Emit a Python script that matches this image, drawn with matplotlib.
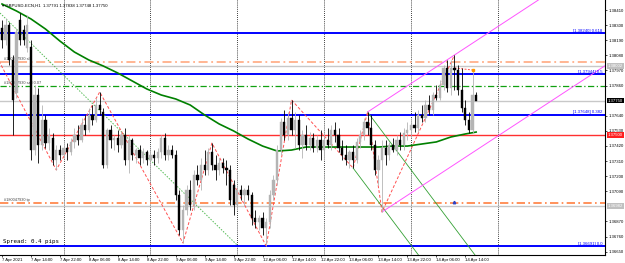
import matplotlib
matplotlib.use("Agg")
import matplotlib.pyplot as plt
import numpy as np

# ---------------- data ----------------
opens = [1.38279,1.38192,1.38301,1.38046,1.37805,1.38337,1.38264,1.38133,1.38141,1.37390,
         1.37791,1.37427,1.37609,1.37441,1.37478,1.37317,1.37390,1.37354,1.37405,1.37376,
         1.37449,1.37500,1.37463,1.37572,1.37536,1.37645,1.37609,1.37718,1.37667,1.37281,
         1.37536,1.37463,1.37478,1.37427,1.37500,1.37317,1.37463,1.37354,1.37390,1.37332,
         1.37376,1.37317,1.37354,1.37332,1.37376,1.37478,1.37354,1.37390,1.37354,1.37062,
         1.36807,1.36953,1.37099,1.36990,1.37208,1.37172,1.37281,1.37245,1.37376,1.37281,
         1.37245,1.37296,1.37259,1.37245,1.37135,1.36990,1.37099,1.37062,1.37099,1.37062,
         1.36895,1.36866,1.36895,1.36822,1.36866,1.37062,1.37172,1.37390,1.37594,1.37500,
         1.37623,1.37536,1.37609,1.37427,1.37500,1.37427,1.37478,1.37405,1.37463,1.37390,
         1.37463,1.37427,1.37536,1.37500,1.37405,1.37354,1.37317,1.37376,1.37317,1.37449,
         1.37500,1.37594,1.37551,1.37427,1.37245,1.37317,1.37405,1.37354,1.37427,1.37390,
         1.37463,1.37427,1.37514,1.37536,1.37572,1.37551,1.37645,1.37623,1.37718,1.37682,
         1.37791,1.37769,1.37864,1.37988,1.37842,1.37988,1.37973,1.37827,1.37696,1.37609,
         1.37536,1.37791]
highs = [1.38337,1.38352,1.38323,1.38082,1.38279,1.38388,1.38301,1.38374,1.38192,1.37864,
         1.37842,1.37718,1.37645,1.37551,1.37514,1.37427,1.37427,1.37463,1.37441,1.37478,
         1.37551,1.37572,1.37623,1.37645,1.37696,1.37718,1.37769,1.37813,1.37696,1.37551,
         1.37572,1.37500,1.37536,1.37521,1.37551,1.37500,1.37478,1.37405,1.37427,1.37405,
         1.37390,1.37376,1.37390,1.37405,1.37500,1.37514,1.37427,1.37427,1.37390,1.37099,
         1.36990,1.37135,1.37172,1.37245,1.37281,1.37332,1.37390,1.37405,1.37441,1.37354,
         1.37332,1.37332,1.37317,1.37281,1.37172,1.37135,1.37135,1.37113,1.37135,1.37084,
         1.36953,1.36917,1.36939,1.36895,1.37099,1.37208,1.37427,1.37623,1.37682,1.37667,
         1.37755,1.37667,1.37645,1.37536,1.37572,1.37521,1.37514,1.37500,1.37536,1.37521,
         1.37551,1.37572,1.37594,1.37551,1.37463,1.37427,1.37390,1.37427,1.37478,1.37536,
         1.37623,1.37667,1.37645,1.37463,1.37354,1.37463,1.37463,1.37449,1.37478,1.37500,
         1.37521,1.37551,1.37594,1.37623,1.37667,1.37682,1.37718,1.37755,1.37791,1.37813,
         1.37864,1.37900,1.38010,1.38046,1.38046,1.38082,1.38010,1.37988,1.37755,1.37667,
         1.37973,1.37813]
lows = [1.38133,1.38155,1.38010,1.37500,1.37769,1.38155,1.38155,1.38104,1.37317,1.37354,
        1.37296,1.37390,1.37405,1.37390,1.37281,1.37245,1.37317,1.37332,1.37317,1.37354,
        1.37405,1.37427,1.37449,1.37500,1.37521,1.37572,1.37594,1.37645,1.37259,1.37259,
        1.37405,1.37390,1.37376,1.37405,1.37281,1.37223,1.37317,1.37296,1.37281,1.37296,
        1.37281,1.37223,1.37281,1.37296,1.37332,1.37317,1.37317,1.37332,1.37026,1.36771,
        1.36713,1.36917,1.36953,1.36953,1.37135,1.37099,1.37208,1.37208,1.37245,1.37172,
        1.37208,1.37223,1.37135,1.36990,1.36917,1.36953,1.37026,1.36990,1.37026,1.36844,
        1.36822,1.36807,1.36771,1.36691,1.36822,1.37026,1.37135,1.37354,1.37463,1.37463,
        1.37500,1.37405,1.37390,1.37332,1.37390,1.37390,1.37376,1.37376,1.37317,1.37317,
        1.37405,1.37390,1.37449,1.37376,1.37317,1.37281,1.37259,1.37259,1.37296,1.37405,
        1.37463,1.37500,1.37390,1.37208,1.37135,1.36939,1.37281,1.37317,1.37376,1.37354,
        1.37390,1.37390,1.37463,1.37478,1.37521,1.37521,1.37594,1.37594,1.37645,1.37645,
        1.37755,1.37755,1.37827,1.37813,1.37791,1.37827,1.37791,1.37667,1.37572,1.37514,
        1.37514,1.37755]
closes = [1.38192,1.38301,1.38046,1.37755,1.38250,1.38192,1.38192,1.38301,1.37390,1.37791,
          1.37427,1.37609,1.37441,1.37500,1.37317,1.37390,1.37354,1.37405,1.37376,1.37449,
          1.37500,1.37463,1.37572,1.37536,1.37645,1.37609,1.37718,1.37682,1.37281,1.37536,
          1.37463,1.37478,1.37427,1.37500,1.37317,1.37463,1.37354,1.37390,1.37332,1.37376,
          1.37317,1.37354,1.37332,1.37376,1.37478,1.37354,1.37390,1.37354,1.37062,1.36807,
          1.36953,1.37099,1.36990,1.37208,1.37172,1.37281,1.37245,1.37376,1.37281,1.37245,
          1.37296,1.37259,1.37245,1.37026,1.36990,1.37099,1.37062,1.37099,1.37062,1.36895,
          1.36866,1.36895,1.36822,1.36866,1.37062,1.37172,1.37390,1.37594,1.37500,1.37623,
          1.37536,1.37609,1.37427,1.37500,1.37427,1.37478,1.37405,1.37463,1.37390,1.37463,
          1.37427,1.37536,1.37500,1.37405,1.37354,1.37317,1.37376,1.37317,1.37449,1.37500,
          1.37594,1.37551,1.37427,1.37245,1.37317,1.37405,1.37354,1.37427,1.37390,1.37463,
          1.37427,1.37514,1.37536,1.37572,1.37551,1.37645,1.37623,1.37718,1.37682,1.37791,
          1.37769,1.37864,1.37988,1.37842,1.37988,1.37973,1.37827,1.37696,1.37609,1.37536,
          1.37791,1.37750]

ma_bars = [0,4,8,12,16,20,24,28,32,36,40,44,48,52,56,60,64,68,72,76,80,84,88,92,96,100,
           104,108,112,116,120,124,128,131]
ma_vals = [1.38454,1.38403,1.38345,1.38272,1.38184,1.38104,1.38046,1.38002,1.37951,1.37893,
           1.37835,1.37791,1.37762,1.37718,1.37645,1.37580,1.37529,1.37470,1.37419,1.37383,
           1.37390,1.37412,1.37412,1.37412,1.37412,1.37412,1.37412,1.37419,1.37419,1.37434,
           1.37449,1.37485,1.37507,1.37521]

zigzag_bars = [-1, 15, 27, 50, 58, 73, 80, 97, 101, 105, 125]
zigzag_vals = [1.38047,1.37245,1.37813,1.36713,1.37441,1.36691,1.37755,1.37259,1.37667,1.36939,1.38082]

fib_levels = [1.38240, 1.37944, 1.37648, 1.36691]
fib_labels = ["[1.38240] 0.618", "[1.37944] 0.5", "[1.37648] 0.382", "[1.36691] 0.0"]

sl_price = 1.38031
entry_price = 1.37856
tp_price = 1.37004
gray_levels = [1.38002, 1.36982]
bid_price = 1.37750
red_price = 1.37500

dotted_trend_bars = [-0.55, 65]
dotted_trend_vals = [1.38388, 1.36697]
green_a_bars = [97, 120]
green_a_vals = [1.37259, 1.36452]
green_b_bars = [101, 135]
green_b_vals = [1.37667, 1.36474]
chan_up_bars = [101, 125]
chan_up_vals = [1.37667, 1.38082]
chan_lo_bars = [105, 129]
chan_lo_vals = [1.36939, 1.37354]

xtick_bars = [0,8,16,24,32,40,48,56,64,72,80,88,96,104,112,120,128]
xtick_labels = ["7 Apr 2021","7 Apr 14:00","7 Apr 22:00","8 Apr 06:00","8 Apr 14:00",
                "8 Apr 22:00","9 Apr 06:00","9 Apr 14:00","9 Apr 22:00","12 Apr 06:00",
                "12 Apr 14:00","12 Apr 22:00","13 Apr 06:00","13 Apr 14:00","13 Apr 22:00",
                "14 Apr 06:00","14 Apr 14:00"]
ytick_vals = [1.38410,1.38300,1.38190,1.38080,1.37970,1.37860,1.37640,1.37530,1.37420,
              1.37310,1.37200,1.37090,1.36870,1.36760,1.36650]
day_sep_bars = [17, 41, 65, 89, 113, 137]

title = "GBPUSD-ECN,H1  1.37791 1.37838 1.37748 1.37750"

# ---------------- figure ----------------
SMALL = ["Liberation Sans Narrow", "Liberation Sans", "DejaVu Sans"]
plt.rcParams["font.family"] = SMALL

W, H = 625, 263
fig = plt.figure(figsize=(W/100, H/100), dpi=100)
ax = fig.add_axes([0, 8/H, 605/W, 255/H])
ax.set_xlim(-0.55, 166.6)
ax.set_ylim(1.366254, 1.384830)
for s in ["top", "left"]:
    ax.spines[s].set_visible(False)
ax.spines["right"].set_linewidth(0.8)
ax.spines["bottom"].set_linewidth(0.8)

fs = 3.1
ax.yaxis.tick_right()
ax.set_yticks(ytick_vals)
ax.set_yticklabels([f"{v:.5f}" for v in ytick_vals], fontsize=fs)
ax.set_xticks(xtick_bars)
ax.set_xticklabels(xtick_labels, fontsize=fs, ha="left")
ax.tick_params(axis="both", length=1.5, width=0.5, pad=0.8)

# day separators
for b in day_sep_bars:
    ax.axvline(b, color="black", ls=(0, (1, 1.5)), lw=0.6, zorder=1)

# horizontal levels
for lv in fib_levels:
    ax.axhline(lv, color="#0000ff", lw=1.4, zorder=2)
for lv, lb in zip(fib_levels, fib_labels):
    ax.text(165.8, lv + 0.00003, lb, fontsize=3.1, color="#0000ff", ha="right", va="bottom", zorder=6)
for lv in gray_levels:
    ax.axhline(lv, color="#c8c8c8", lw=1.0, zorder=2)
ax.axhline(bid_price, color="#c8c8c8", lw=1.0, zorder=2)
ax.axhline(sl_price, color="#ffb08a", lw=1.3, ls=(0, (5, 2, 1, 2)), zorder=2)
ax.axhline(tp_price, color="#ff7f40", lw=1.2, ls=(0, (5, 2, 1, 2)), zorder=2)
ax.axhline(entry_price, color="#10a010", lw=0.9, ls=(0, (5, 2, 1, 2)), zorder=2)
ax.axhline(red_price, color="#ff3030", lw=1.0, zorder=2)

ax.text(0.5, sl_price + 0.0001, "#180047930 sl", fontsize=2.8, color="#444444", va="bottom")
ax.text(0.5, entry_price + 0.0001, "#180047930 sell 0.07", fontsize=2.8, color="#444444", va="bottom")
ax.text(0.5, tp_price + 0.0001, "#180047930 tp", fontsize=2.8, color="#444444", va="bottom")

# trend objects
ax.plot(dotted_trend_bars, dotted_trend_vals, color="#55bb55", lw=0.7, ls=(0, (1.5, 1.5)), zorder=3)
ax.plot(green_a_bars, green_a_vals, color="#33a033", lw=0.6, zorder=3)
ax.plot(green_b_bars, green_b_vals, color="#33a033", lw=0.6, zorder=3)
slope = (chan_up_vals[1] - chan_up_vals[0]) / (chan_up_bars[1] - chan_up_bars[0])
xe = 170
ax.plot([chan_up_bars[0], xe], [chan_up_vals[0], chan_up_vals[0] + slope * (xe - chan_up_bars[0])],
        color="#ff55ff", lw=0.7, zorder=3)
ax.plot([chan_lo_bars[0], xe], [chan_lo_vals[0], chan_lo_vals[0] + slope * (xe - chan_lo_bars[0])],
        color="#ff55ff", lw=0.7, zorder=3)
ax.plot(zigzag_bars, zigzag_vals, color="#ff5050", lw=0.7, ls=(0, (3, 2)), zorder=4)
ax.plot([125, 130], [highs[125] - 0.00094, highs[130]], color="#ff5050", lw=0.7, ls=(0, (2, 1.5)), zorder=4)
ax.plot([130], [highs[130]], marker="s", ms=1.6, color="#ff9900", zorder=6)
ax.plot([125], [tp_price + 0.00008], marker="^", ms=1.8, color="#3040c0", zorder=6)

# moving average
ax.plot(ma_bars, ma_vals, color="#008000", lw=1.2, zorder=4)

# candles
x = np.arange(len(opens))
o = np.array(opens); c = np.array(closes); h = np.array(highs); l = np.array(lows)
up = c >= o
bull_col = "#b4b4b4"
cols = np.where(up, bull_col, "black")
ax.vlines(x, l, h, colors=cols, lw=0.6, zorder=5)
ax.bar(x, np.maximum(np.abs(c - o), 0.00002), bottom=np.minimum(o, c), width=0.62,
       color=cols, edgecolor=cols, lw=0.3, zorder=5)

# right-side price boxes
def pbox(price, face, tcolor):
    ax.annotate(f"{price:.5f}", xy=(1.0, price), xycoords=("axes fraction", "data"),
                xytext=(2.2, 0), textcoords="offset points", fontsize=3.1, color=tcolor,
                va="center", ha="left", annotation_clip=False, zorder=10,
                bbox=dict(boxstyle="square,pad=0.2", fc=face, ec=face, lw=0))
for gl in gray_levels:
    pbox(gl, "#c0c0c0", "white")
pbox(bid_price, "black", "white")
pbox(red_price, "#ff2020", "white")

# header & spread text
fig.text(2/W, 1 - 6/H, "\u25be " + title, fontsize=3.1, color="black", va="center", ha="left",
         family=["Liberation Sans", "DejaVu Sans"])
ax.text(0.3, fib_levels[3] + 0.00012, "Spread: 0.4 pips", fontsize=4.2, color="black",
        family="DejaVu Sans Mono", va="bottom", ha="left", zorder=7)

fig.savefig("out.png", dpi=100)
